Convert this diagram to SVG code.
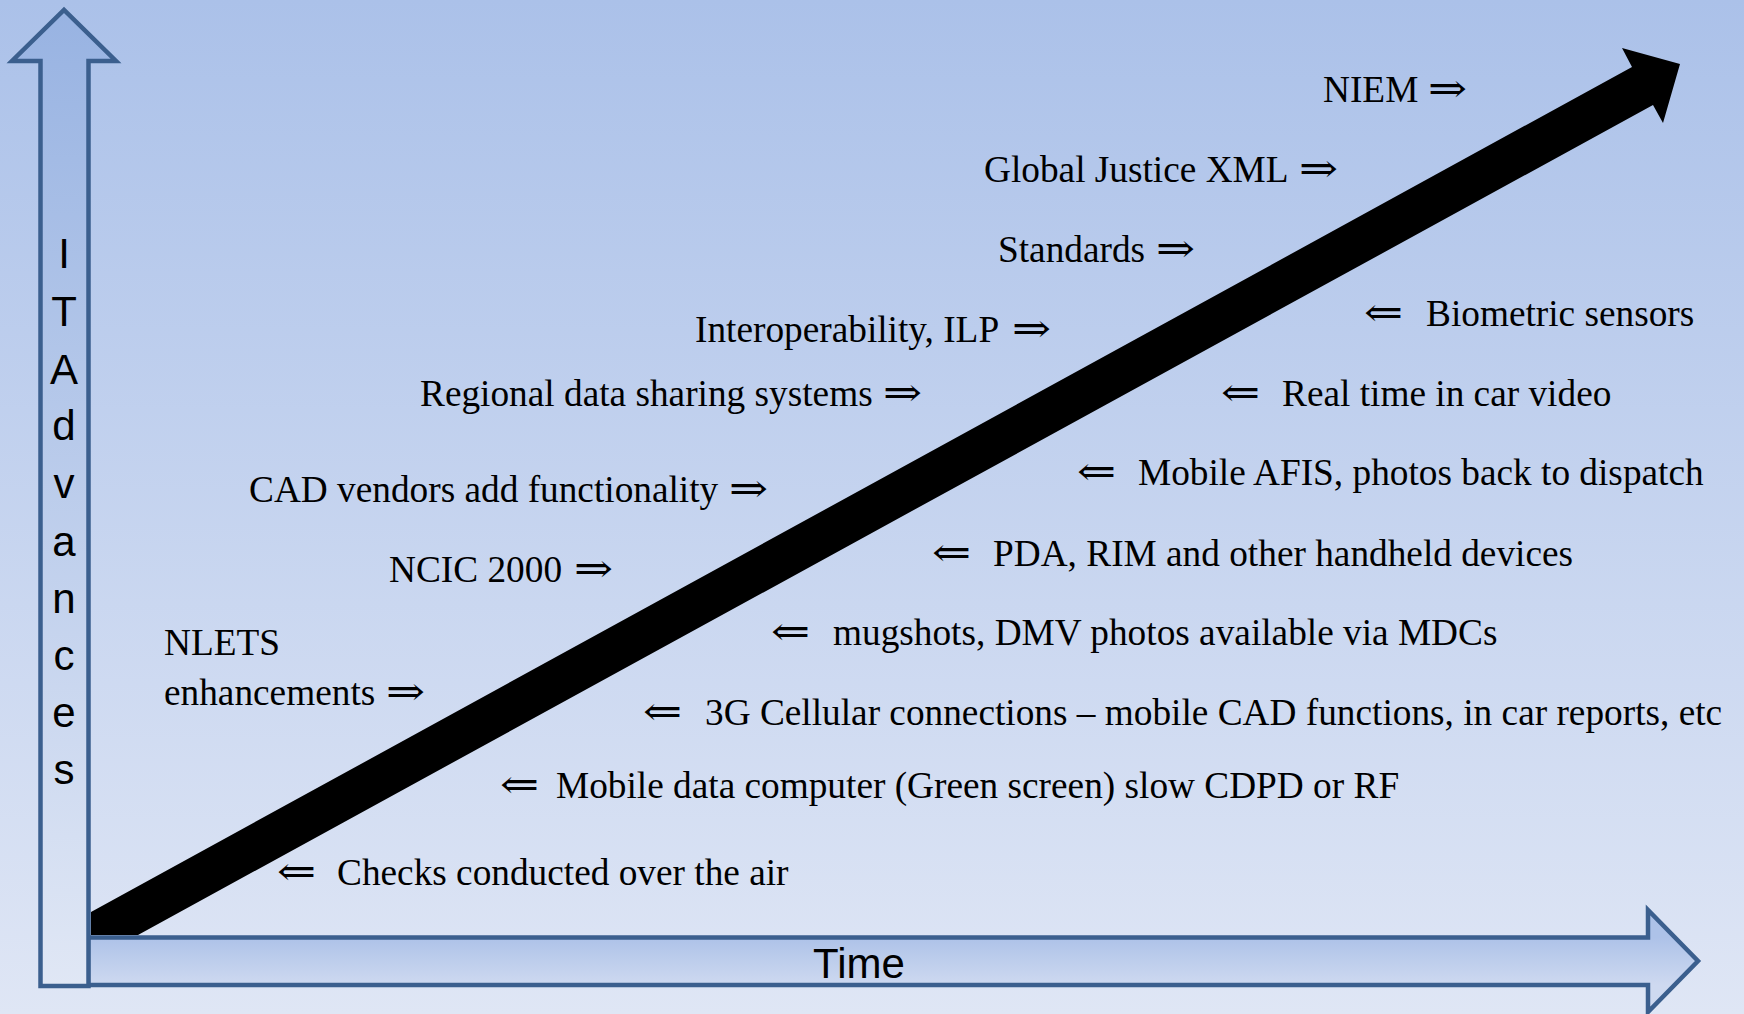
<svg xmlns="http://www.w3.org/2000/svg" width="1744" height="1014" viewBox="0 0 1744 1014">
<defs>
<linearGradient id="bg" x1="0" y1="0" x2="0" y2="1">
<stop offset="0" stop-color="#abc1e9"/>
<stop offset="1" stop-color="#dfe6f5"/>
</linearGradient>
<linearGradient id="vfill" gradientUnits="userSpaceOnUse" x1="0" y1="10" x2="0" y2="986">
<stop offset="0" stop-color="#98b3e2"/>
<stop offset="1" stop-color="#e0e7f5"/>
</linearGradient>
<linearGradient id="hfill" gradientUnits="userSpaceOnUse" x1="0" y1="937" x2="0" y2="985">
<stop offset="0" stop-color="#adc2e8"/>
<stop offset="1" stop-color="#ced9f0"/>
</linearGradient>
<style>
.axis{stroke:#3b5f8e;stroke-width:4.5;stroke-linejoin:miter}
.lbl{font-family:"Liberation Serif","DejaVu Serif",serif;font-size:37.3px;fill:#000}
.ar{font-family:"DejaVu Serif","Liberation Serif",serif;font-size:40px}
.sans{font-family:"Liberation Sans","DejaVu Sans",sans-serif;font-size:42px;fill:#000}
</style>
</defs>
<rect x="0" y="0" width="1744" height="1014" fill="url(#bg)"/>

<g id="time-axis">
<polygon class="axis" fill="url(#hfill)" points="88,937.5 1648,937.5 1648,910 1698,961 1648,1012 1648,985 88,985"/>
<text class="sans" x="859" y="978" text-anchor="middle">Time</text>
</g>

<g id="it-axis">
<polygon class="axis" fill="url(#vfill)" points="40.5,986 40.5,61 12,61 64,10 116,61 88.5,61 88.5,986"/>
<text class="sans" text-anchor="middle">
<tspan x="64" y="268">I</tspan><tspan x="64" y="326">T</tspan><tspan x="64" y="384">A</tspan><tspan x="64" y="440">d</tspan><tspan x="64" y="498">v</tspan><tspan x="64" y="556">a</tspan><tspan x="64" y="613">n</tspan><tspan x="64" y="670">c</tspan><tspan x="64" y="727">e</tspan><tspan x="64" y="784">s</tspan>
</text>
</g>

<g id="connectors">
<polygon id="progress-arrow" fill="#000" points="91,912 1632,67 1622,48 1680,64 1663,123 1653,105 138,935 91,935"/>
</g>

<g id="niem"><text class="lbl" y="102"><tspan x="1323">NIEM</tspan><tspan class="ar" x="1428" textLength="39" lengthAdjust="spacingAndGlyphs">⇒</tspan></text></g>
<g id="gjxml"><text class="lbl" y="182"><tspan x="984">Global Justice XML</tspan><tspan class="ar" x="1299" textLength="39" lengthAdjust="spacingAndGlyphs">⇒</tspan></text></g>
<g id="standards"><text class="lbl" y="262"><tspan x="998">Standards</tspan><tspan class="ar" x="1156" textLength="39" lengthAdjust="spacingAndGlyphs">⇒</tspan></text></g>
<g id="interop"><text class="lbl" y="342"><tspan x="695">Interoperability, ILP</tspan><tspan class="ar" x="1012" textLength="39" lengthAdjust="spacingAndGlyphs">⇒</tspan></text></g>
<g id="regional"><text class="lbl" y="406"><tspan x="420">Regional data sharing systems</tspan><tspan class="ar" x="883" textLength="39" lengthAdjust="spacingAndGlyphs">⇒</tspan></text></g>
<g id="cad"><text class="lbl" y="502"><tspan x="249">CAD vendors add functionality</tspan><tspan class="ar" x="729" textLength="39" lengthAdjust="spacingAndGlyphs">⇒</tspan></text></g>
<g id="ncic"><text class="lbl" y="582"><tspan x="389">NCIC 2000</tspan><tspan class="ar" x="574" textLength="39" lengthAdjust="spacingAndGlyphs">⇒</tspan></text></g>
<g id="nlets"><text class="lbl"><tspan x="164" y="655">NLETS</tspan><tspan x="164" y="705">enhancements</tspan><tspan class="ar" x="386" y="705" textLength="39" lengthAdjust="spacingAndGlyphs">⇒</tspan></text></g>

<g id="biometric"><text class="lbl" y="326"><tspan class="ar" x="1364" textLength="39" lengthAdjust="spacingAndGlyphs">⇐</tspan><tspan x="1426">Biometric sensors</tspan></text></g>
<g id="video"><text class="lbl" y="406"><tspan class="ar" x="1221" textLength="39" lengthAdjust="spacingAndGlyphs">⇐</tspan><tspan x="1282">Real time in car video</tspan></text></g>
<g id="afis"><text class="lbl" y="485"><tspan class="ar" x="1077" textLength="39" lengthAdjust="spacingAndGlyphs">⇐</tspan><tspan x="1138">Mobile AFIS, photos back to dispatch</tspan></text></g>
<g id="pda"><text class="lbl" y="566"><tspan class="ar" x="932" textLength="39" lengthAdjust="spacingAndGlyphs">⇐</tspan><tspan x="993">PDA, RIM and other handheld devices</tspan></text></g>
<g id="mugshots"><text class="lbl" y="645"><tspan class="ar" x="771" textLength="39" lengthAdjust="spacingAndGlyphs">⇐</tspan><tspan x="833">mugshots, DMV photos available via MDCs</tspan></text></g>
<g id="cellular"><text class="lbl" y="725"><tspan class="ar" x="643" textLength="39" lengthAdjust="spacingAndGlyphs">⇐</tspan><tspan x="705">3G Cellular connections – mobile CAD functions, in car reports, etc</tspan></text></g>
<g id="mdc"><text class="lbl" y="798"><tspan class="ar" x="500" textLength="39" lengthAdjust="spacingAndGlyphs">⇐</tspan><tspan x="556">Mobile data computer (Green screen) slow CDPD or RF</tspan></text></g>
<g id="checks"><text class="lbl" y="885"><tspan class="ar" x="277" textLength="39" lengthAdjust="spacingAndGlyphs">⇐</tspan><tspan x="337">Checks conducted over the air</tspan></text></g>
</svg>
